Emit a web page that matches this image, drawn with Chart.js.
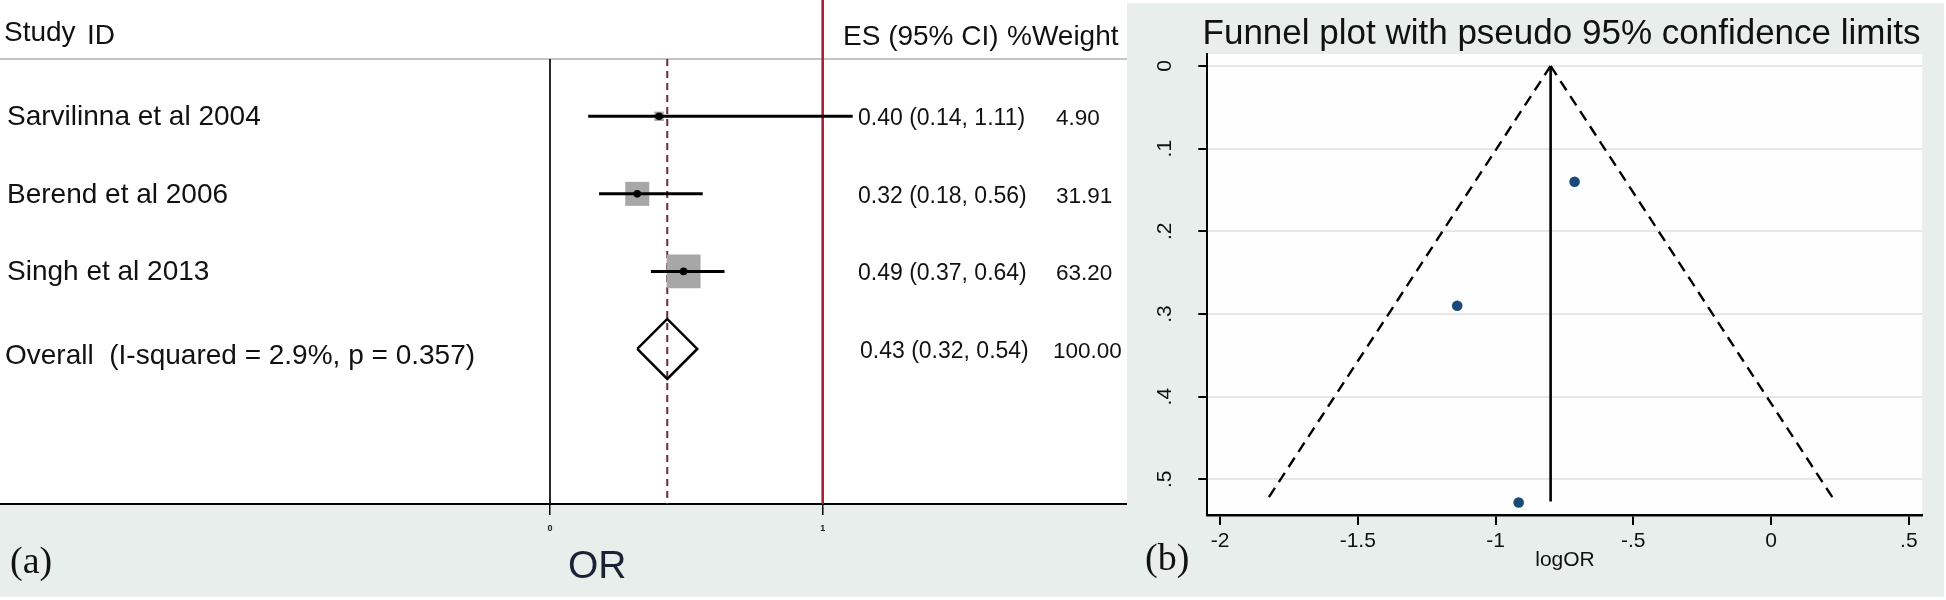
<!DOCTYPE html>
<html>
<head>
<meta charset="utf-8">
<title>forest and funnel plot</title>
<script src="https://cdn.jsdelivr.net/npm/chart.js@4.4.0/dist/chart.umd.min.js"></script>
<style>
    body { margin:0; background:#fff; width:1946px; height:600px; overflow:hidden; position:relative; }
    canvas { position:absolute; top:0; }
    #forest { left:0; }
    #funnel { left:1127px; }
</style>
</head>
<body>
<canvas id="forest" width="1127" height="600"></canvas>
<canvas id="funnel" width="819" height="600"></canvas>
<script>
// forest plot (a)
var studies = ['Sarvilinna et al 2004', 'Berend et al 2006', 'Singh et al 2013'];
var es = [0.40, 0.32, 0.49];
var ciLow = [0.14, 0.18, 0.37];
var ciHigh = [1.11, 0.56, 0.64];
var weights = [4.90, 31.91, 63.20];
var overallLabel = 'Overall  (I-squared = 2.9%, p = 0.357)';
var overallEs = 0.43;
var overallLow = 0.32;
var overallHigh = 0.54;
var overallWeight = 100.00;
var forestTicks = [0, 1];

// funnel plot (b)
var logOR = [-0.916, -1.139, -0.713];
var seLogOR = [0.528, 0.290, 0.140];
var pooledLogOR = -0.80;
var funnelSe = [0, 0.527];
var funnelLeftX = [-0.80, -1.833];
var funnelRightX = [-0.80, 0.233];
var funnelXTicks = [-2, -1.5, -1, -0.5, 0, 0.5];
var funnelXLabels = ['-2', '-1.5', '-1', '-.5', '0', '.5'];
var funnelYTicks = [0, 0.1, 0.2, 0.3, 0.4, 0.5];
var funnelYLabels = ['0', '.1', '.2', '.3', '.4', '.5'];

var FONT = "'Liberation Sans', Arial, sans-serif";
var SERIF = "'Liberation Serif', 'Times New Roman', serif";
var BG = '#e7eeec';
var HEADER_ROW = 0.26;
var TOP_ROW = -0.5;
var BOTTOM_ROW = 6;
var DIAMOND_H = 0.387;
var overallRow = studies.length + 1;

function fmt(v) { return v.toFixed(2); }
function esText(e, l, h) { return fmt(e) + ' (' + fmt(l) + ', ' + fmt(h) + ')'; }

var forestDatasets = [];
forestDatasets.push({
    data: es.map(function (v, i) { return {x: v, y: i + 1}; }),
    pointRadius: 3.8, pointBackgroundColor: '#000', pointBorderWidth: 0
});
forestDatasets.push({
    data: [{x: overallLow, y: overallRow}, {x: overallEs, y: overallRow - DIAMOND_H},
           {x: overallHigh, y: overallRow}, {x: overallEs, y: overallRow + DIAMOND_H},
           {x: overallLow, y: overallRow}],
    showLine: true, borderColor: '#000', borderWidth: 2.5, pointRadius: 0, fill: false
});
studies.forEach(function (s, i) {
    forestDatasets.push({
        data: [{x: ciLow[i], y: i + 1}, {x: ciHigh[i], y: i + 1}],
        showLine: true, borderColor: '#000', borderWidth: 3, pointRadius: 0
    });
});
forestDatasets.push({
    data: es.map(function (v, i) { return {x: v, y: i + 1}; }),
    pointStyle: 'rect', pointBackgroundColor: '#a7a7a7', pointBorderWidth: 0,
    pointRadius: function (ctx) { return 4.25 * Math.sqrt(weights[ctx.dataIndex]) / Math.SQRT2; }
});
forestDatasets.push({
    data: [{x: overallEs, y: HEADER_ROW}, {x: overallEs, y: BOTTOM_ROW}],
    showLine: true, borderColor: '#6e2a36', borderWidth: 2, borderDash: [7, 5], pointRadius: 0
});
forestDatasets.push({
    data: [{x: 0, y: HEADER_ROW}, {x: 0, y: BOTTOM_ROW}],
    showLine: true, borderColor: '#111', borderWidth: 1.8, pointRadius: 0
});
forestDatasets.push({
    data: [{x: 1, y: TOP_ROW}, {x: 1, y: BOTTOM_ROW}],
    showLine: true, borderColor: '#a3192f', borderWidth: 2.5, pointRadius: 0
});

var forestDecor = {
    id: 'forestDecor',
    beforeDraw: function (chart) {
        var c = chart.ctx, a = chart.chartArea;
        c.save();
        c.fillStyle = '#fff';
        c.fillRect(0, 0, chart.width, chart.height);
        c.fillStyle = BG;
        c.fillRect(0, a.bottom, chart.width, 597 - a.bottom);
        var hy = chart.scales.y.getPixelForValue(HEADER_ROW);
        c.strokeStyle = '#c4c4c4';
        c.lineWidth = 2;
        c.beginPath(); c.moveTo(0, hy); c.lineTo(a.right, hy); c.stroke();
        c.restore();
    },
    afterDraw: function (chart) {
        var c = chart.ctx, ys = chart.scales.y;
        c.save();
        c.fillStyle = '#111';
        c.textBaseline = 'alphabetic';
        c.textAlign = 'left';
        c.font = '28px ' + FONT;
        c.fillText('Study', 4, 41);
        c.fillText('ID', 87, 43.5);
        c.fillText('ES (95% CI)', 843, 45);
        c.fillText('%Weight', 1007, 45);
        studies.forEach(function (s, i) {
            var py = ys.getPixelForValue(i + 1);
            c.font = '28px ' + FONT;
            c.fillText(s, 7, py + 9);
            c.font = '23px ' + FONT;
            c.fillText(esText(es[i], ciLow[i], ciHigh[i]), 858, py + 9);
            c.font = '22.5px ' + FONT;
            c.fillText(fmt(weights[i]), 1056, py + 9);
        });
        var oy = ys.getPixelForValue(overallRow);
        c.font = '28px ' + FONT;
        c.fillText(overallLabel, 5, oy + 15);
        c.font = '23px ' + FONT;
        c.fillText(esText(overallEs, overallLow, overallHigh), 860, oy + 9);
        c.font = '22.5px ' + FONT;
        c.fillText(fmt(overallWeight), 1053, oy + 9);
        c.fillStyle = '#1b2236';
        c.font = '39px ' + FONT;
        c.fillText('OR', 568, 578);
        c.fillStyle = '#111';
        c.font = '38px ' + SERIF;
        c.fillText('(a)', 10, 573);
        c.restore();
    }
};

new Chart(document.getElementById('forest'), {
    type: 'scatter',
    data: {datasets: forestDatasets},
    options: {
        responsive: false, animation: false, events: [],
        layout: {padding: 0, autoPadding: false},
        plugins: {legend: {display: false}, tooltip: {enabled: false}},
        scales: {
            x: {
                type: 'linear', min: -2.017, max: 2.116,
                afterBuildTicks: function (s) { s.ticks = forestTicks.map(function (v) { return {value: v}; }); },
                afterFit: function (s) { s.height = 96; },
                ticks: {font: {family: FONT, size: 9, weight: 'bold'}, color: '#222', padding: 8, maxRotation: 0, autoSkip: false},
                grid: {drawOnChartArea: false, tickLength: 11, tickColor: '#000', lineWidth: 1.5},
                border: {color: '#000', width: 2}
            },
            y: {type: 'linear', reverse: true, min: TOP_ROW, max: BOTTOM_ROW, display: false}
        }
    },
    plugins: [forestDecor]
});

var funnelDecor = {
    id: 'funnelDecor',
    beforeDraw: function (chart) {
        var c = chart.ctx, a = chart.chartArea;
        c.save();
        c.fillStyle = '#fff';
        c.fillRect(0, 0, chart.width, chart.height);
        c.fillStyle = BG;
        c.fillRect(0, 3, 817, 594);
        c.fillStyle = '#fefefe';
        c.fillRect(a.left, a.top, a.right - a.left, a.bottom - a.top);
        c.restore();
    },
    afterDraw: function (chart) {
        var c = chart.ctx, ys = chart.scales.y;
        c.save();
        c.fillStyle = '#111';
        c.font = '35px ' + FONT;
        c.textAlign = 'center';
        c.textBaseline = 'alphabetic';
        c.fillText('Funnel plot with pseudo 95% confidence limits', 434.5, 43.5, 723);
        c.font = '21px ' + FONT;
        c.fillText('logOR', 438, 566);
        funnelYTicks.forEach(function (v, i) {
            c.save();
            c.translate(38.7, ys.getPixelForValue(v));
            c.rotate(-Math.PI / 2);
            c.textAlign = 'center';
            c.textBaseline = 'middle';
            c.font = '21px ' + FONT;
            c.fillText(funnelYLabels[i], 0, 0);
            c.restore();
        });
        c.textAlign = 'left';
        c.font = '38px ' + SERIF;
        c.fillText('(b)', 18, 570);
        c.restore();
    }
};

new Chart(document.getElementById('funnel'), {
    type: 'scatter',
    data: {
        datasets: [
            {
                data: logOR.map(function (x, i) { return {x: x, y: seLogOR[i]}; }),
                pointRadius: 5.3, pointBackgroundColor: '#1a4a78', pointBorderColor: '#1a4a78', pointBorderWidth: 0
            },
            {
                data: [{x: pooledLogOR, y: funnelSe[0]}, {x: pooledLogOR, y: funnelSe[1]}],
                showLine: true, borderColor: '#000', borderWidth: 2.6, pointRadius: 0
            },
            {
                data: funnelLeftX.map(function (x, i) { return {x: x, y: funnelSe[i]}; }),
                showLine: true, borderColor: '#000', borderWidth: 2.4, borderDash: [11, 7], pointRadius: 0
            },
            {
                data: funnelRightX.map(function (x, i) { return {x: x, y: funnelSe[i]}; }),
                showLine: true, borderColor: '#000', borderWidth: 2.4, borderDash: [11, 7], pointRadius: 0
            }
        ]
    },
    options: {
        responsive: false, animation: false, events: [],
        layout: {padding: {top: 54, right: 23.7, left: 0, bottom: 0}, autoPadding: false},
        plugins: {legend: {display: false}, tooltip: {enabled: false}},
        scales: {
            x: {
                type: 'linear', min: -2.046, max: 0.549,
                afterBuildTicks: function (s) { s.ticks = funnelXTicks.map(function (v) { return {value: v}; }); },
                afterFit: function (s) { s.height = 85; },
                ticks: {
                    callback: function (v, i) { return funnelXLabels[i]; },
                    font: {family: FONT, size: 21}, color: '#111', padding: 4, maxRotation: 0, autoSkip: false
                },
                grid: {drawOnChartArea: false, tickLength: 10, tickColor: '#000', lineWidth: 2},
                border: {color: '#000', width: 2.5}
            },
            y: {
                type: 'linear', reverse: true, min: -0.0145, max: 0.5432,
                afterBuildTicks: function (s) { s.ticks = funnelYTicks.map(function (v) { return {value: v}; }); },
                afterFit: function (s) { s.width = 80.3; },
                ticks: {color: 'rgba(0,0,0,0)', font: {family: FONT, size: 21}, padding: 4},
                grid: {color: '#e4e7e6', lineWidth: 2, tickColor: '#000', tickLength: 9},
                border: {color: '#000', width: 2}
            }
        }
    },
    plugins: [funnelDecor]
});
</script>
</body>
</html>
